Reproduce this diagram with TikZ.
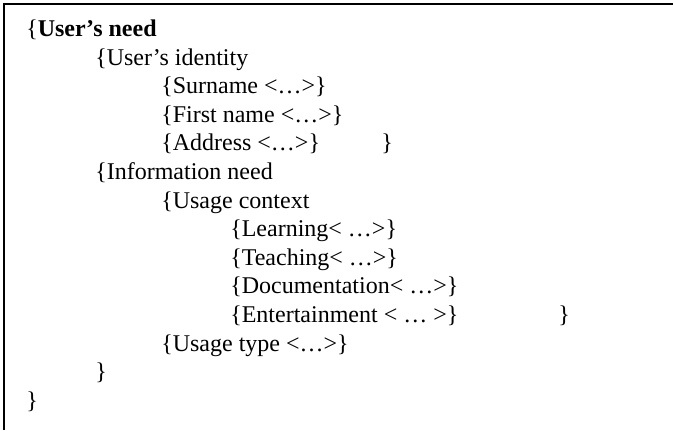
\documentclass[tikz,border=0pt]{standalone}
\usepackage{fontspec}
\setmainfont{Liberation Serif}
\begin{document}
\begin{tikzpicture}[x=0.75pt,y=-0.75pt,
 rowtext/.style={anchor=base west, inner sep=0pt, font=\fontsize{18}{21}\selectfont}]
 
 \useasboundingbox (0,0) rectangle (673,430);
 \draw[line width=1.5pt](4,430)--(4,4)--(673,4);
 
 \node[rowtext] (need) at (26,36.5){\{\textbf{User’s need}};
 \node[rowtext] (identity) at (95,65.1){\{User’s identity};
 \node[rowtext] (surname) at (161,93.7){\{Surname <…>\}};
 \node[rowtext] (firstname) at (161,122.3){\{First name <…>\}};
 \node[rowtext] (address) at (161,150.9){\{Address <…>\}};
 \node[rowtext] (closeidentity) at (381,150.9){\}};
 \node[rowtext] (infoneed) at (95,179.5){\{Information need};
 \node[rowtext] (context) at (161,208.1){\{Usage context};
 \node[rowtext] (learning) at (230,236.7){\{Learning< …>\}};
 \node[rowtext] (teaching) at (230,265.3){\{Teaching< …>\}};
 \node[rowtext] (documentation) at (230,293.9){\{Documentation< …>\}};
 \node[rowtext] (entertainment) at (230,322.5){\{Entertainment < … >\}};
 \node[rowtext] (closecontext) at (558,322.5){\}};
 \node[rowtext] (usagetype) at (161,351.1){\{Usage type <…>\}};
 \node[rowtext] (closeinfo) at (95,379.7){\}};
 \node[rowtext] (closeneed) at (26,408.3){\}};
 
\end{tikzpicture}
\end{document}
